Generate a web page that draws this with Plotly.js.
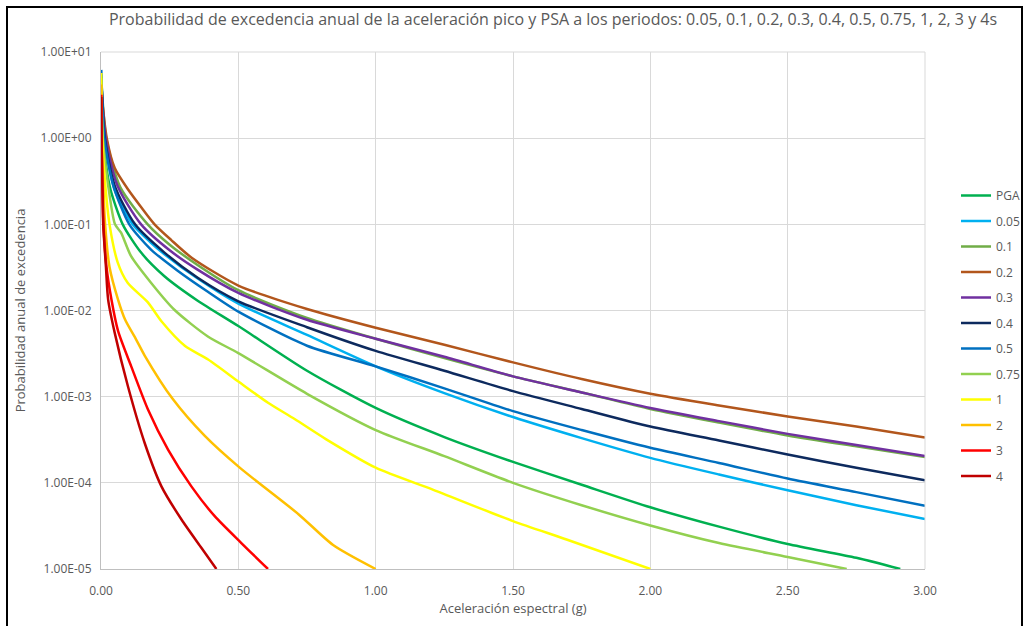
<!DOCTYPE html>
<html>
<head>
<meta charset="utf-8">
<script src="https://cdn.plot.ly/plotly-3.0.1.min.js"></script>
<style>
  html, body { margin: 0; padding: 0; background: #ffffff; overflow: hidden; }
  #wrap { position: relative; width: 1026px; height: 626px; overflow: hidden; }
  #chart { position: absolute; left: 0; top: 0; width: 1026px; height: 626px; }
  #frame { position: absolute; left: 6px; top: 6px; width: 1013px; height: 700px; border: 2px solid #000; pointer-events: none; }
</style>
</head>
<body>
<div id="wrap">
  <div id="chart"></div>
  <div id="frame"></div>
</div>
<script>
// ---- data ----
const seriesNames = ["PGA", "0.05", "0.1", "0.2", "0.3", "0.4", "0.5", "0.75", "1", "2", "3", "4"];

const xPGA = [0.001, 0.0095, 0.02, 0.035, 0.079, 0.146, 0.231, 0.352, 0.5, 0.75, 1.0, 1.25, 1.5, 1.75, 2.0, 2.25, 2.5, 2.75, 2.91];
const yPGA = [4.5, 1.0, 0.45, 0.25, 0.1, 0.047, 0.025, 0.013, 0.0066, 0.002, 7.4e-4, 3.4e-4, 1.75e-4, 9.5e-5, 5.2e-5, 3.1e-5, 1.95e-5, 1.35e-5, 1.0e-5];

const x005 = [0.001, 0.0135, 0.05, 0.115, 0.18, 0.231, 0.352, 0.5, 0.75, 1.0, 1.25, 1.5, 1.75, 2.0, 2.25, 2.5, 2.75, 3.0];
const y005 = [5.5, 1.0, 0.25, 0.1, 0.062, 0.045, 0.0235, 0.012, 0.0052, 0.00225, 1.1e-3, 5.8e-4, 3.3e-4, 1.95e-4, 1.25e-4, 8.2e-5, 5.5e-5, 3.8e-5];

const x01 = [0.001, 0.019, 0.07, 0.17, 0.25, 0.35, 0.5, 0.75, 1.0, 1.25, 1.5, 1.75, 2.0, 2.25, 2.5, 2.75, 3.0];
const y01 = [5.0, 1.0, 0.27, 0.1, 0.058, 0.034, 0.0172, 0.0082, 0.0047, 0.0028, 0.00172, 0.00112, 7.2e-4, 5.0e-4, 3.55e-4, 2.65e-4, 2.0e-4];

const x02 = [0.001, 0.021, 0.05, 0.1, 0.145, 0.195, 0.255, 0.33, 0.5, 0.75, 1.0, 1.25, 1.5, 1.75, 2.0, 2.25, 2.5, 2.75, 3.0];
const y02 = [3.5, 1.0, 0.45, 0.25, 0.16, 0.1, 0.066, 0.041, 0.0195, 0.0104, 0.0063, 0.004, 0.0025, 0.0016, 0.00108, 7.9e-4, 5.9e-4, 4.5e-4, 3.35e-4];

const x03 = [0.001, 0.017, 0.06, 0.146, 0.25, 0.35, 0.5, 0.75, 1.0, 1.25, 1.5, 1.75, 2.0, 2.25, 2.5, 2.75, 3.0];
const y03 = [4.5, 1.0, 0.28, 0.1, 0.05, 0.03, 0.016, 0.0078, 0.0047, 0.0029, 0.00172, 0.00112, 7.4e-4, 5.2e-4, 3.7e-4, 2.75e-4, 2.05e-4];

const x04 = [0.001, 0.014, 0.05, 0.124, 0.231, 0.352, 0.5, 0.75, 1.0, 1.25, 1.5, 1.75, 2.0, 2.25, 2.5, 2.75, 3.0];
const y04 = [5.0, 1.0, 0.28, 0.1, 0.047, 0.024, 0.0128, 0.0064, 0.0034, 0.002, 0.00116, 7.2e-4, 4.5e-4, 3.1e-4, 2.13e-4, 1.5e-4, 1.07e-4];

const x05 = [0.001, 0.012, 0.045, 0.103, 0.182, 0.279, 0.389, 0.5, 0.75, 1.0, 1.25, 1.5, 1.75, 2.0, 2.25, 2.5, 2.75, 3.0];
const y05 = [6.2, 1.0, 0.28, 0.1, 0.051, 0.029, 0.0165, 0.0097, 0.0039, 0.00225, 1.25e-3, 6.8e-4, 4.1e-4, 2.55e-4, 1.7e-4, 1.12e-4, 7.8e-5, 5.4e-5];

const x075 = [0.001, 0.0065, 0.025, 0.051, 0.073, 0.109, 0.182, 0.267, 0.389, 0.5, 0.75, 1.0, 1.25, 1.5, 1.75, 2.0, 2.25, 2.5, 2.715];
const y075 = [5.0, 1.0, 0.3, 0.1, 0.08, 0.043, 0.021, 0.0102, 0.005, 0.0032, 0.00108, 4.1e-4, 2.04e-4, 1.0e-4, 5.5e-5, 3.2e-5, 2.0e-5, 1.38e-5, 1.0e-5];

const x1 = [0.001, 0.0045, 0.015, 0.031, 0.061, 0.097, 0.17, 0.22, 0.305, 0.39, 0.5, 0.608, 0.705, 0.82, 1.0, 1.21, 1.5, 1.695, 2.0];
const y1 = [5.7, 1.0, 0.3, 0.1, 0.036, 0.021, 0.0125, 0.0075, 0.0039, 0.0027, 0.0015, 8.5e-4, 5.5e-4, 3.2e-4, 1.5e-4, 8.3e-5, 3.6e-5, 2.2e-5, 1.0e-5];

const x2 = [0.001, 0.003, 0.008, 0.015, 0.031, 0.062, 0.088, 0.128, 0.159, 0.26, 0.378, 0.505, 0.72, 0.845, 1.0];
const y2 = [4.2, 1.0, 0.3, 0.1, 0.032, 0.0134, 0.0078, 0.0046, 0.003, 9.5e-4, 3.5e-4, 1.5e-4, 4.3e-5, 1.9e-5, 1.0e-5];

const x3 = [0.001, 0.002, 0.005, 0.009, 0.02, 0.038, 0.062, 0.11, 0.171, 0.244, 0.329, 0.414, 0.511, 0.608];
const y3 = [3.2, 1.0, 0.3, 0.1, 0.032, 0.0134, 0.0058, 0.00225, 7.1e-4, 2.43e-4, 9.1e-5, 4.1e-5, 2.0e-5, 1.0e-5];

const x4 = [0.001, 0.002, 0.005, 0.008, 0.018, 0.026, 0.05, 0.098, 0.159, 0.22, 0.293, 0.366, 0.42];
const y4 = [3.0, 1.0, 0.3, 0.1, 0.032, 0.0134, 0.0055, 1.32e-3, 2.9e-4, 9.1e-5, 3.75e-5, 1.75e-5, 1.0e-5];

const seriesX = [xPGA, x005, x01, x02, x03, x04, x05, x075, x1, x2, x3, x4];
const seriesY = [yPGA, y005, y01, y02, y03, y04, y05, y075, y1, y2, y3, y4];
const seriesColors = ["#00B050", "#00B0F0", "#70AD47", "#B2561C", "#7030A0", "#0D2A5E", "#0070C0", "#92D050", "#FFFF00", "#FFC000", "#FF0000", "#C00000"];

const yTickVals = [1e-5, 1e-4, 1e-3, 1e-2, 1e-1, 1e0, 1e1];
const yTickText = ["1.00E-05", "1.00E-04", "1.00E-03", "1.00E-02", "1.00E-01", "1.00E+00", "1.00E+01"];

const titleText = "Probabilidad de excedencia anual de la aceleración pico y PSA a los periodos: 0.05, 0.1, 0.2, 0.3, 0.4, 0.5, 0.75, 1, 2, 3 y 4s";
const xTitle = "Aceleración espectral (g)";
const yTitle = "Probabilidad anual de excedencia";

// ---- chart ----
const FONT = "'Open Sans', Lato, sans-serif";
const GRAY = "#595959";

const traces = seriesNames.map((name, i) => ({
  type: "scatter",
  mode: "lines",
  name: name,
  legendgroup: "g" + i,
  x: seriesX[i],
  y: seriesY[i],
  line: { color: seriesColors[i], width: 2.5, shape: "spline", smoothing: 0.7 },
  cliponaxis: true,
  hoverinfo: "x+y+name"
}));

const layout = {
  width: 1026,
  height: 626,
  paper_bgcolor: "#ffffff",
  plot_bgcolor: "#ffffff",
  margin: { l: 101, r: 101, t: 52, b: 57, pad: 0, autoexpand: false },
  font: { family: FONT, color: GRAY, size: 12 },
  title: {
    text: titleText,
    font: { family: FONT, size: 16, color: GRAY },
    x: 553 / 1026, xref: "container", xanchor: "center",
    y: 1 - 19 / 626, yref: "container", yanchor: "middle"
  },
  xaxis: {
    range: [0, 3],
    tick0: 0, dtick: 0.5,
    tickformat: ".2f",
    showgrid: true, gridcolor: "#D9D9D9", gridwidth: 1,
    zeroline: false,
    showline: true, linecolor: "#BFBFBF", linewidth: 1,
    ticks: "",
    ticklabelstandoff: 11,
    tickfont: { family: FONT, size: 12, color: GRAY },
    title: { text: xTitle, font: { family: FONT, size: 13, color: GRAY }, standoff: 3 },
    automargin: false
  },
  yaxis: {
    type: "log",
    range: [-5, 1],
    tickvals: yTickVals,
    ticktext: yTickText,
    showgrid: true, gridcolor: "#D9D9D9", gridwidth: 1,
    zeroline: false,
    showline: true, linecolor: "#BFBFBF", linewidth: 1,
    ticks: "",
    ticklabelstandoff: 6,
    tickfont: { family: FONT, size: 12, color: GRAY },
    title: { text: yTitle, font: { family: FONT, size: 13, color: GRAY }, standoff: 12 },
    automargin: false
  },
  showlegend: true,
  legend: {
    x: (956 - 101) / 824, xanchor: "left",
    y: (569 - 181) / 517, yanchor: "top",
    bgcolor: "rgba(0,0,0,0)",
    borderwidth: 0,
    font: { family: FONT, size: 12, color: GRAY },
    tracegroupgap: 6.5,
    traceorder: "grouped"
  },
  shapes: [
    { type: "line", xref: "paper", yref: "paper", x0: 1, x1: 1, y0: 0, y1: 1, line: { color: "#D9D9D9", width: 1 } },
    { type: "line", xref: "paper", yref: "paper", x0: 0, x1: 1, y0: 1, y1: 1, line: { color: "#D9D9D9", width: 1 } }
  ]
};

Plotly.newPlot("chart", traces, layout, { displayModeBar: false, staticPlot: true });
</script>
</body>
</html>
